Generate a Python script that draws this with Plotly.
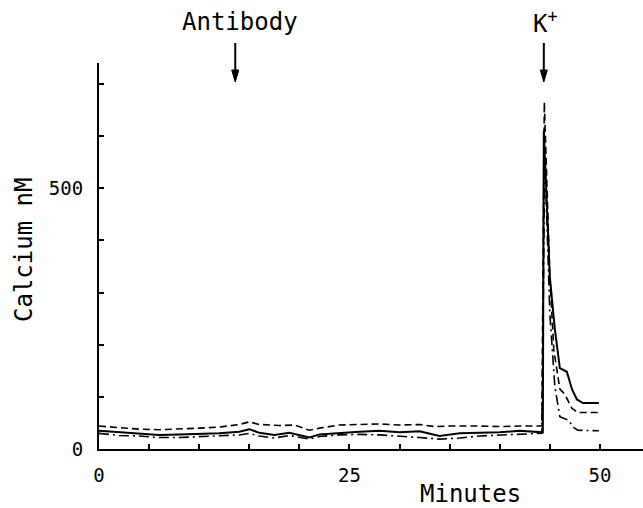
import plotly.graph_objects as go

# ---- data ----
solid_x = [0, 2, 4, 6, 8, 10, 12, 14, 15, 16, 17.5, 19, 21, 22, 24, 26, 28, 30, 32, 34, 36, 38, 40, 42, 44.2,
           44.3, 44.4, 45.0, 45.5, 46.0, 46.7, 47.2, 47.7, 48.3, 49.9]
solid_y = [35, 32, 29, 27, 28, 29, 30, 33, 38, 31, 27, 31, 22, 28, 31, 33, 35, 32, 34, 25, 30, 31, 32, 35, 32,
           32, 610, 330, 230, 155, 148, 115, 95, 88, 88]

dashed_x = [0, 2, 4, 6, 8, 10, 12, 14, 15, 16, 18, 19.5, 21, 22, 24, 26, 28, 30, 32, 33.5, 35, 38, 40, 42, 44.2,
            44.45, 45.0, 45.4, 46.0, 46.5, 47.2, 47.8, 49.9]
dashed_y = [44, 41, 38, 37, 38, 40, 42, 47, 52, 47, 45, 46, 36, 40, 46, 47, 48, 46, 47, 43, 44, 44, 43, 44, 44,
            665, 330, 190, 115, 105, 78, 70, 70]

dashdot_x = [0, 2, 4, 6, 8, 10, 12, 14, 15, 16, 17.5, 19, 21, 22, 24, 26, 28, 30, 32, 34, 36, 38, 40, 42, 44.2,
             44.5, 45.0, 45.5, 46.0, 46.5, 46.9, 47.3, 47.8, 49.9]
dashdot_y = [30, 26, 25, 22, 22, 24, 26, 27, 30, 25, 21, 26, 19, 24, 27, 28, 27, 25, 22, 19, 21, 25, 27, 29, 30,
             560, 260, 120, 62, 58, 55, 42, 36, 35]

x_tickvals = [0, 25, 50]
x_ticktext = ["0", "25", "50"]
y_tickvals = [0, 500]
y_ticktext = ["0", "500"]

event_times = [13.6, 44.4]
event_labels = ["Antibody", "K<sup>+</sup>"]
label_offsets = [0.45, 0.2]

FONT = "DejaVu Sans Mono"
PLOT_H = 386.0

def py(px):
    """pixel row -> paper y"""
    return (449 - px) / PLOT_H

fig = go.Figure()
fig.add_trace(go.Scatter(x=solid_x, y=solid_y, mode="lines",
                         line=dict(color="black", width=2, dash="solid")))
fig.add_trace(go.Scatter(x=dashed_x, y=dashed_y, mode="lines",
                         line=dict(color="black", width=1.6, dash="7px,4px")))
fig.add_trace(go.Scatter(x=dashdot_x, y=dashdot_y, mode="lines",
                         line=dict(color="black", width=1.6, dash="10px,4px,2px,4px")))

fig.update_layout(
    width=643, height=508,
    margin=dict(l=99, r=0, t=63, b=59),
    paper_bgcolor="white", plot_bgcolor="white",
    showlegend=False,
    font=dict(family=FONT, color="black", size=19),
    xaxis=dict(range=[0, 54.3], showline=True, linecolor="black", linewidth=2,
               ticks="inside", ticklen=5, tickwidth=1.5, tickcolor="black",
               tickvals=x_tickvals, ticktext=x_ticktext, showgrid=False, zeroline=False,
               minor=dict(ticks="inside", dtick=5, tick0=0, ticklen=5, tickwidth=1.5,
                          tickcolor="black", showgrid=False),
               tickfont=dict(family=FONT, size=19), ticklabelstandoff=8),
    yaxis=dict(range=[0, 740], showline=True, linecolor="black", linewidth=2,
               ticks="inside", ticklen=5, tickwidth=1.5, tickcolor="black",
               tickvals=y_tickvals, ticktext=y_ticktext, showgrid=False, zeroline=False,
               minor=dict(ticks="inside", dtick=100, tick0=0, ticklen=5, tickwidth=1.5,
                          tickcolor="black", showgrid=False),
               tickfont=dict(family=FONT, size=19), ticklabelstandoff=10),
)

# axis titles
fig.add_annotation(text="Minutes", xref="paper", yref="paper", x=(470 - 99) / 544, y=py(494),
                   showarrow=False, font=dict(family=FONT, size=24), xanchor="center", yanchor="middle")
fig.add_annotation(text="Calcium nM", xref="paper", yref="paper", x=-(99 - 24) / 544, y=py(250),
                   showarrow=False, textangle=-90, font=dict(family=FONT, size=24),
                   xanchor="center", yanchor="middle")

# event labels and arrows (arrows drawn as shapes)
for t, lab, off in zip(event_times, event_labels, label_offsets):
    fig.add_annotation(text=lab, xref="x", yref="paper", x=t + off, y=py(22),
                       showarrow=False, font=dict(family=FONT, size=24),
                       xanchor="center", yanchor="middle")
    fig.add_shape(type="line", xref="x", yref="paper", x0=t, x1=t, y0=py(43), y1=py(72),
                  line=dict(color="black", width=2))
    fig.add_shape(type="path", xref="x", yref="paper",
                  path=f"M {t - 0.35},{py(70)} L {t + 0.35},{py(70)} L {t},{py(82)} Z",
                  fillcolor="black", line=dict(color="black", width=1))

fig.write_html("out.html")
